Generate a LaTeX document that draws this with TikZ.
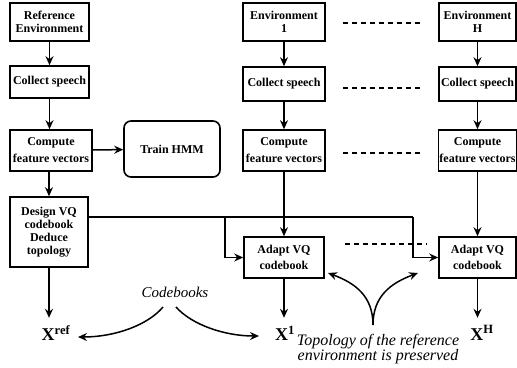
\documentclass[tikz,border=0pt]{standalone}
\usepackage{fontspec}
\setmainfont{Liberation Serif}
\usetikzlibrary{arrows.meta,calc}
\begin{document}
\begin{tikzpicture}[x=1pt,y=-1pt,
  box/.style={draw,line width=1.6pt,inner sep=1pt,align=center,font=\fontsize{12}{13}\selectfont\bfseries},
  arr/.style={line width=1.5pt,-{Stealth[length=9pt,width=8pt,inset=3pt]}},
  ln/.style={line width=1.3pt},
  dsh/.style={line width=1.6pt,dash pattern=on 5pt off 4pt},
  xlab/.style={font=\fontsize{18}{20}\selectfont\bfseries,inner sep=0pt},
  note/.style={font=\fontsize{15}{14}\selectfont\itshape,align=center,inner sep=0pt}
]
\useasboundingbox (0,0) rectangle (517,367);
% left column
\node[box,minimum width=79pt,minimum height=38pt] (ref) at (49.5,22) {Reference\\Environment};
\node[box,minimum width=79pt,minimum height=32pt] (collL) at (49.5,82) {Collect speech};
\node[box,minimum width=82pt,minimum height=41pt,font=\fontsize{12}{17}\selectfont\bfseries] (compL) at (51,150.5) {Compute\\feature vectors};
\node[box,minimum width=96pt,minimum height=56pt,rounded corners=7pt] (hmm) at (172,149) {Train HMM};
\node[box,minimum width=78pt,minimum height=70pt] (design) at (49,232) {Design VQ\\codebook\\Deduce\\topology};
% column 1
\node[box,minimum width=82pt,minimum height=38pt] (env1) at (284,22) {Environment\\1};
\node[box,minimum width=82pt,minimum height=34pt] (coll1) at (284,84) {Collect speech};
\node[box,minimum width=82pt,minimum height=41pt,font=\fontsize{12}{17}\selectfont\bfseries] (comp1) at (284,150.5) {Compute\\feature vectors};
\node[box,minimum width=80pt,minimum height=41pt,font=\fontsize{12}{16}\selectfont\bfseries] (adapt1) at (284,257.5) {Adapt VQ\\codebook};
% column H
\node[box,minimum width=77pt,minimum height=38pt] (envH) at (477.5,22) {Environment\\H};
\node[box,minimum width=77pt,minimum height=34pt] (collH) at (477.5,84) {Collect speech};
\node[box,minimum width=77pt,minimum height=41pt,font=\fontsize{12}{17}\selectfont\bfseries] (compH) at (477.5,150.5) {Compute\\feature vectors};
\node[box,minimum width=77pt,minimum height=41pt,font=\fontsize{12}{16}\selectfont\bfseries] (adaptH) at (477.5,257.5) {Adapt VQ\\codebook};
% outputs
\node[xlab] (xref) at (56,333) {X\textsuperscript{ref}};
\node[xlab] (x1) at (285,333) {X\textsuperscript{1}};
\node[xlab] (xH) at (482,333) {X\textsuperscript{H}};
\node[note] (cb) at (175,292) {Codebooks};
\node[note,font=\fontsize{16}{14}\selectfont\itshape] (topo) at (378,349) {Topology of the reference\\environment is preserved};
% vertical flow
\draw[arr] (ref) -- (collL);
\draw[arr] (collL) -- (compL.north -| collL);
\draw[arr] (compL.south -| design) -- (design);
\draw[arr] (compL) -- (hmm);
\draw[arr] (design.south) -- ($(design.south)+(0,50)$) coordinate (dxe);
\draw[arr] (env1) -- (coll1);
\draw[arr] (coll1) -- (comp1);
\draw[arr] (comp1) -- (adapt1);
\draw[arr] (adapt1.south) -- ($(adapt1.south)+(0,39)$);
\draw[arr] (envH) -- (collH);
\draw[arr] (collH) -- (compH);
\draw[arr] (compH) -- (adaptH);
\draw[arr] (adaptH.south) -- ($(adaptH.south)+(0,39)$);
% design to adapt
\coordinate (ja) at (225,217);
\coordinate (jb) at (413,217);
\draw[ln] (design.east |- ja) -- (jb);
\draw[arr] (ja) |- (adapt1.west);
\draw[arr] (jb) |- (adaptH.west);
% dashed links
\draw[dsh] ($(env1.east)+(17,1)$) -- ($(envH.west)+(-15,1)$);
\draw[dsh] ($(coll1.east)+(17,4)$) -- ($(collH.west)+(-15,4)$);
\draw[dsh] ($(comp1.east)+(17,2.5)$) -- ($(compH.west)+(-15,2.5)$);
\draw[dsh] ($(adapt1.east)+(20,-13.5)$) -- ($(adaptH.west)+(-11,-13.5)$);
% codebooks curves
\coordinate (cbl) at (163,307);
\coordinate (cbr) at (176,307);
\coordinate (tl) at (78,337);
\coordinate (tr) at (259,336);
\draw[arr] (cbl) .. controls (148,325) and (115,337) .. (tl);
\draw[arr] (cbr) .. controls (192,325) and (225,336) .. (tr);
% topology curves
\coordinate (tp) at (373,325);
\coordinate (al) at (328,273);
\coordinate (ar) at (418,273);
\draw[arr] (tp) .. controls (373,296) and (355,283) .. (al);
\draw[arr] (tp) .. controls (373,296) and (391,283) .. (ar);
\end{tikzpicture}
\end{document}
